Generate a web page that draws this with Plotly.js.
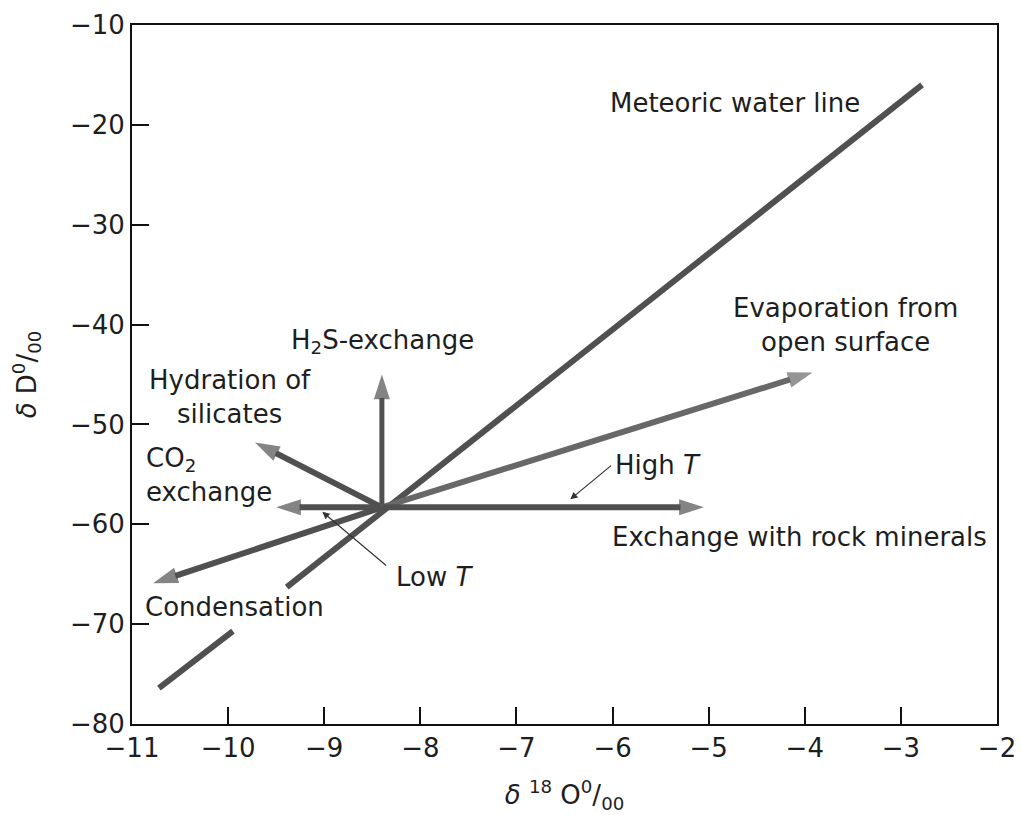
<!DOCTYPE html>
<html>
<head>
<meta charset="utf-8">
<script src="https://cdn.plot.ly/plotly-3.0.1.min.js"></script>
<style>html,body{margin:0;padding:0;background:#fff;}#chart{width:1021px;height:815px;}</style>
</head>
<body>
<div id="chart"></div>
<script>
// Meteoric water line (gap where the "Condensation" label sits)
var mwlX = [-10.72, -9.95, null, -9.39, -2.78];
var mwlY = [-76.4, -70.7, null, -66.3, -16.0];

// Common origin of the process arrows
var originX = -8.4;
var originY = -58.3;

// Process arrows: tips
var arrowNames = ["H2S-exchange", "Hydration of silicates", "CO2 exchange", "Condensation", "Evaporation", "Exchange with rock minerals"];
var arrowTipX = [-8.4, -9.72, -9.5, -10.78, -3.92, -5.05];
var arrowTipY = [-45.0, -51.8, -58.3, -65.9, -44.8, -58.3];

// Labels
var labelText = [
  "Meteoric water line",
  "Evaporation from<br>open surface",
  "Exchange with rock minerals",
  "H<sub>2</sub>S-exchange",
  "Hydration of<br>silicates",
  "Condensation"
];
var labelX = [-4.73, -3.58, -4.05, -8.39, -9.98, -9.93];
var labelY = [-17.8, -40.0, -61.25, -41.7, -47.3, -68.3];

// Left-aligned label
var co2Text = "CO<sub>2</sub><br>exchange";
var co2X = -10.87, co2Y = -55.1;

// Pointer labels (Low T, High T)
var pointerText = ["Low <i>T</i>", "High <i>T</i>"];
var pointerTailX = [-8.34, -6.0];
var pointerTailY = [-64.25, -54.0];
var pointerTipX = [-9.02, -6.44];
var pointerTipY = [-58.75, -57.5];
var pointerLabelX = [-8.27, -6.0];
var pointerLabelY = [-65.25, -54.1];

var lineColor = "#505050";
var FONT = "DejaVu Sans, sans-serif";
var TXT = "#1e1e1e";

var traces = [];
traces.push({
  x: mwlX, y: mwlY, mode: "lines", type: "scatter",
  line: {color: lineColor, width: 6}, connectgaps: false, hoverinfo: "skip"
});
for (var i = 0; i < arrowTipX.length; i++) {
  var c = i === 4 ? "#686868" : lineColor;
  traces.push({
    name: arrowNames[i],
    x: [originX, arrowTipX[i]], y: [originY, arrowTipY[i]],
    mode: "lines+markers", type: "scatter",
    line: {color: c, width: i === 0 ? 5 : 6},
    marker: {symbol: "arrow", angleref: "previous", size: [0, 26], color: c, line: {width: 0}},
    hoverinfo: "skip"
  });
}

var annotations = [];
for (var j = 0; j < labelText.length; j++) {
  annotations.push({
    x: labelX[j], y: labelY[j], xref: "x", yref: "y", text: labelText[j],
    showarrow: false, xanchor: "center", yanchor: "middle", align: "center",
    font: {family: FONT, size: 26, color: TXT}
  });
}
annotations.push({
  x: co2X, y: co2Y, xref: "x", yref: "y", text: co2Text,
  showarrow: false, xanchor: "left", yanchor: "middle", align: "left",
  font: {family: FONT, size: 26, color: TXT}
});
for (var k = 0; k < pointerText.length; k++) {
  annotations.push({
    x: pointerLabelX[k], y: pointerLabelY[k], xref: "x", yref: "y", text: pointerText[k],
    showarrow: false, xanchor: "left", yanchor: "middle",
    font: {family: FONT, size: 26, color: TXT}
  });
  annotations.push({
    x: pointerTipX[k], y: pointerTipY[k], xref: "x", yref: "y",
    ax: pointerTailX[k], ay: pointerTailY[k], axref: "x", ayref: "y",
    text: " ", showarrow: true, arrowhead: 2, arrowsize: 1.2, arrowwidth: 1.2, arrowcolor: "#333",
    font: {size: 1}
  });
}

var axisCommon = {
  showgrid: false, zeroline: false, showline: true, mirror: true,
  linecolor: "#111", linewidth: 2, ticks: "inside", ticklen: 17, tickwidth: 2, tickcolor: "#111",
  tickfont: {family: FONT, size: 26, color: TXT}
};

var layout = {
  width: 1021, height: 815,
  margin: {l: 132, r: 24, t: 25, b: 91},
  paper_bgcolor: "#fff", plot_bgcolor: "#fff",
  showlegend: false,
  font: {family: FONT},
  xaxis: Object.assign({}, axisCommon, {
    range: [-11, -2], dtick: 1, tick0: -11,
    title: {text: "<i>δ</i> <sup>18</sup> O<sup>0</sup>/<sub>00</sub>", font: {family: FONT, size: 26, color: TXT}, standoff: 24}
  }),
  yaxis: Object.assign({}, axisCommon, {
    range: [-80, -10], dtick: 10, tick0: -80,
    title: {text: "<i>δ</i> D<sup>0</sup>/<sub>00</sub>", font: {family: FONT, size: 26, color: TXT}, standoff: 26}
  }),
  annotations: annotations
};

Plotly.newPlot("chart", traces, layout, {displayModeBar: false, staticPlot: true});
</script>
</body>
</html>
